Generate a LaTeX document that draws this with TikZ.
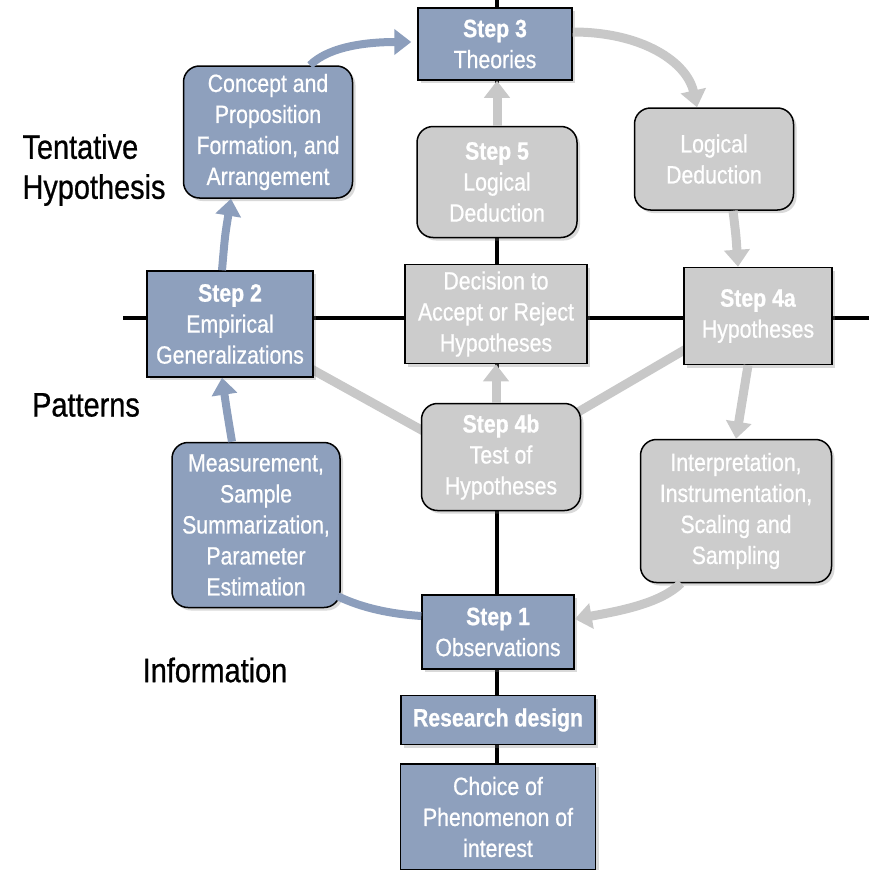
\documentclass[tikz,border=0pt]{standalone}
\usepackage{fontspec}
\setmainfont[FakeStretch=0.85, FakeBold=0.7]{Liberation Sans}
\usepackage{tikz}
\usetikzlibrary{arrows.meta, positioning, shadows, backgrounds}

\definecolor{boxblue}{RGB}{142,160,189}
\definecolor{boxgray}{RGB}{204,204,204}
\definecolor{arrowblue}{RGB}{140,158,188}
\definecolor{arrowgray}{RGB}{200,200,200}

\begin{document}
\begin{tikzpicture}[x=1pt, y=-1pt,
    >={Triangle[width=25pt,length=17pt]},
    every node/.style={font=\fontsize{25}{31}\selectfont},
    bluebox/.style={draw=black, line width=1.5pt, fill=boxblue, text=white, align=center, inner sep=2pt,
        drop shadow={shadow xshift=3pt, shadow yshift=-3pt, opacity=0.3}},
    graybox/.style={bluebox, fill=boxgray},
    roundbox/.style={rounded corners=16pt},
    axis/.style={line width=4pt, black},
    garrow/.style={->, line width=9pt, draw=arrowgray},
    gline/.style={line width=9pt, draw=arrowgray},
    barrow/.style={->, line width=8pt, draw=arrowblue},
    side/.style={font=\fontsize{34}{40}\selectfont, align=left},
]
\useasboundingbox (0,0) rectangle (869,870);

\node[bluebox, minimum width=154pt, minimum height=72pt] (step3) at (495,44) {\textbf{Step 3}\\Theories};
\node[bluebox, roundbox, minimum width=169pt, minimum height=132pt] (concept) at (268,132) {Concept and\\Proposition\\Formation, and\\Arrangement};
\node[graybox, roundbox, minimum width=160pt, minimum height=111pt] (step5) at (497,182) {\textbf{Step 5}\\Logical\\Deduction};
\node[graybox, roundbox, minimum width=159pt, minimum height=102pt] (logic) at (714,159) {Logical\\Deduction};
\node[bluebox, minimum width=166pt, minimum height=106pt] (step2) at (230,324) {\textbf{Step 2}\\Empirical\\Generalizations};
\node[graybox, minimum width=182pt, minimum height=99pt] (decide) at (496,314) {Decision to\\Accept or Reject\\Hypotheses};
\node[graybox, minimum width=148pt, minimum height=97pt] (step4a) at (758,316) {\textbf{Step 4a}\\Hypotheses};
\node[graybox, roundbox, minimum width=159pt, minimum height=107pt] (step4b) at (501,457) {\textbf{Step 4b}\\Test of\\Hypotheses};
\node[bluebox, roundbox, minimum width=168pt, minimum height=165pt] (measure) at (256,525) {Measurement,\\Sample\\Summarization,\\Parameter\\Estimation};
\node[graybox, roundbox, minimum width=191pt, minimum height=143pt] (interp) at (736,511) {Interpretation,\\Instrumentation,\\Scaling and\\Sampling};
\node[bluebox, minimum width=152pt, minimum height=74pt] (step1) at (498,632) {\textbf{Step 1}\\Observations};
\node[bluebox, minimum width=194pt, minimum height=49pt, below=25pt of step1] (design) {\textbf{Research design}};
\node[bluebox, minimum width=195pt, minimum height=106pt, below=18pt of design] (choice) {Choice of\\Phenomenon of\\interest};

\node[side] (tentative) at (94,170) {Tentative\\Hypothesis};
\node[side] (patterns) at (86,405) {Patterns};
\node[side] (info) at (215,670) {Information};

% axes and plain links behind the boxes
\begin{scope}[on background layer]
\coordinate (axisL) at (123,318);
\coordinate (axisR) at (869,318);
\coordinate (axisT) at (497,0);
\draw[axis] (axisL) -- (axisR);
\draw[axis] (axisT) -- (axisT |- choice.north);
\draw[gline] (step2.center) -- ([yshift=-17pt]step4b.center);
\draw[gline] (step4b.center) -- ([yshift=9pt]step4a.center);
\end{scope}

% deduction side
\draw[garrow] (step5.north) -- (step5.north |- step3.south);
\draw[garrow] ([yshift=12pt]step3.east) .. controls +(70,0) and +(-10,-45) .. ([xshift=-17pt]logic.north);
\draw[garrow] ([xshift=19pt]logic.south) .. controls +(3,25) .. ([xshift=-20pt]step4a.north);
\draw[garrow] ([xshift=-10pt]step4a.south) -- (interp.north);
\draw[garrow] ([xshift=-55pt]interp.south) .. controls +(-20,20) and +(45,-8) .. ([yshift=13pt]step1.east);
\draw[garrow] (decide.south |- step4b.north) -- (decide.south);

% induction side
\draw[line width=8pt, draw=arrowblue] ([yshift=16pt]step1.west) .. controls +(-30,-2) and +(25,12) .. ([xshift=-3pt,yshift=12pt]measure.south east);
\draw[barrow] ([xshift=-24pt]measure.north) .. controls +(-5,-30) .. ([xshift=-8pt]step2.south);
\draw[barrow] ([xshift=-8pt]step2.north) .. controls +(3,-35) .. ([xshift=-37pt]concept.south);
\draw[barrow] ([xshift=42pt]concept.north) .. controls +(20,-20) and +(-40,0) .. ([xshift=-6pt,yshift=2pt]step3.west);
\end{tikzpicture}
\end{document}
